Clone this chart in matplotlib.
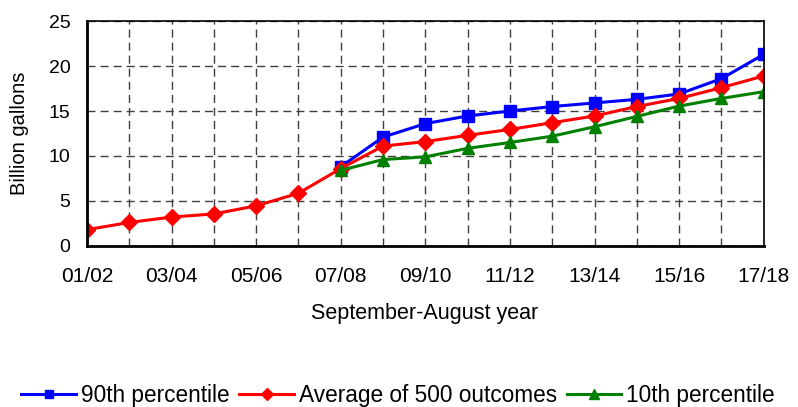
import matplotlib.pyplot as plt
import numpy as np

plt.rcParams['font.family'] = ['Liberation Sans', 'DejaVu Sans']

years = ['01/02', '02/03', '03/04', '04/05', '05/06', '06/07', '07/08', '08/09',
         '09/10', '10/11', '11/12', '12/13', '13/14', '14/15', '15/16', '16/17', '17/18']

# projections start at 07/08
p90 = [8.8, 12.1, 13.6, 14.45, 15.0, 15.5, 15.9, 16.3, 16.9, 18.6, 21.3]
avg = [1.8, 2.6, 3.2, 3.55, 4.45, 5.85, 8.6, 11.1, 11.6, 12.3, 12.95, 13.7,
       14.45, 15.5, 16.4, 17.6, 18.9]
p10 = [8.4, 9.6, 9.9, 10.85, 11.5, 12.2, 13.25, 14.4, 15.55, 16.4, 17.15]

x = np.arange(len(years))
x_proj = x[len(years) - len(p90):]

fig = plt.figure(figsize=(7.98, 4.07), dpi=100)
ax = fig.add_axes([0.109, 0.396, 0.848, 0.552])

ax.plot(x_proj, p90, color='#0000ff', lw=2.2, marker='s', ms=8.6, label='90th percentile')
ax.plot(x, avg, color='#ff0000', lw=2.2, marker='D', ms=8.6, label='Average of 500 outcomes')
ax.plot(x_proj, p10, color='#008000', lw=2.2, marker='^', ms=9, label='10th percentile')

ax.set_xlim(0, len(years) - 1)
ax.set_ylim(0, 25)
ax.set_yticks(range(0, 26, 5))
ax.set_xticks(x)
ax.set_xticklabels([y if i % 2 == 0 else '' for i, y in enumerate(years)])
ax.tick_params(length=0)
ax.tick_params(axis='x', labelsize=15, pad=15)
ax.tick_params(axis='y', labelsize=14, pad=12)

ax.grid(True, ls=(0, (5.8, 3.6)), color='#404040', lw=1)
ax.set_axisbelow(True)

for side in ['left', 'bottom']:
    ax.spines[side].set_linewidth(2)
for side in ['top', 'right']:
    ax.spines[side].set_linewidth(1.2)

ax.set_ylabel('Billion gallons', fontsize=14.5)
ax.yaxis.set_label_coords(-0.085, 0.5)
ax.set_xlabel('September-August year', fontsize=15.5)
ax.xaxis.set_label_coords(0.499, -0.255)

fig.legend(loc='center', bbox_to_anchor=(0.499, 0.028), ncol=3, frameon=False,
           fontsize=16.3, handlelength=2.4, handletextpad=0.22, columnspacing=0.45,
           markerscale=0.75, borderpad=0)

fig.savefig('out.png', dpi=100)
